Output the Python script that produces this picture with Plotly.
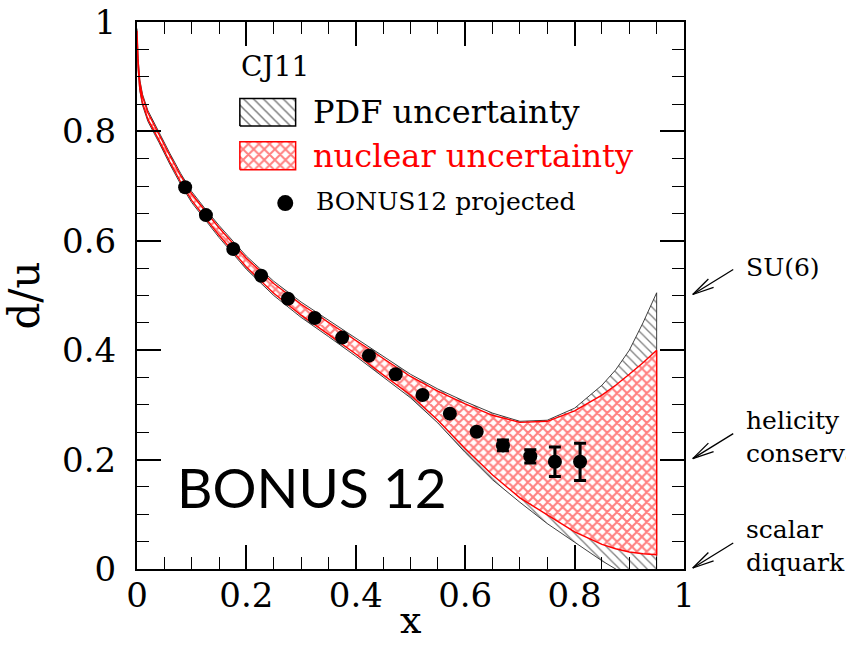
import math
import plotly.graph_objects as go

# ---------------- data ----------------
x_grid = [0.0, 0.001, 0.002, 0.005, 0.01, 0.02, 0.03, 0.04, 0.06, 0.08, 0.1, 0.125, 0.15,
          0.2, 0.25, 0.3, 0.35, 0.4, 0.45, 0.5, 0.55, 0.6, 0.65, 0.7, 0.75, 0.8,
          0.85, 0.875, 0.9, 0.925, 0.95]

pdf_upper = [0.988, 0.950, 0.933, 0.895, 0.868, 0.838, 0.818, 0.800, 0.760, 0.723, 0.690, 0.658, 0.628,
             0.572, 0.526, 0.488, 0.455, 0.423, 0.389, 0.356, 0.329, 0.306, 0.285, 0.270, 0.272,
             0.294, 0.336, 0.364, 0.400, 0.450, 0.505]
pdf_lower = [0.966, 0.932, 0.915, 0.875, 0.848, 0.818, 0.798, 0.780, 0.740, 0.703, 0.670, 0.638, 0.606,
             0.548, 0.500, 0.460, 0.425, 0.389, 0.351, 0.313, 0.267, 0.213, 0.163, 0.122, 0.083,
             0.049, 0.015, 0.001, -0.015, -0.030, -0.045]

nuc_upper = [0.984, 0.946, 0.929, 0.891, 0.864, 0.834, 0.814, 0.796, 0.756, 0.719, 0.686, 0.654, 0.624,
             0.568, 0.522, 0.484, 0.451, 0.419, 0.385, 0.352, 0.325, 0.302, 0.281, 0.268, 0.270,
             0.289, 0.318, 0.336, 0.356, 0.377, 0.400]
nuc_lower = [0.970, 0.936, 0.919, 0.879, 0.852, 0.822, 0.802, 0.784, 0.744, 0.707, 0.674, 0.642, 0.610,
             0.552, 0.504, 0.464, 0.429, 0.393, 0.355, 0.318, 0.272, 0.220, 0.172, 0.130, 0.099,
             0.068, 0.045, 0.037, 0.031, 0.028, 0.026]

bonus_x = [0.088, 0.126, 0.176, 0.227, 0.276, 0.325, 0.375, 0.424, 0.473, 0.522, 0.572, 0.621,
           0.669, 0.719, 0.764, 0.810]
bonus_y = [0.698, 0.647, 0.585, 0.536, 0.494, 0.459, 0.423, 0.390, 0.356, 0.318, 0.284, 0.251,
           0.226, 0.206, 0.196, 0.196]
bonus_err = [None, None, None, None, None, None, None, None, None, None, None, None,
             0.010, 0.012, 0.027, 0.034]

tick_vals = [0, 0.2, 0.4, 0.6, 0.8, 1.0]
tick_text = ["0", "0.2", "0.4", "0.6", "0.8", "1"]

legend_labels = ["CJ11", "PDF uncertainty", "nuclear uncertainty", "BONUS12 projected"]
limit_labels = ["SU(6)", "helicity<br>conservation", "scalar<br>diquark"]
limit_values = [0.5, 0.2, 0.0]

SERIF = "DejaVu Serif"
PDF_PATTERN = dict(shape="\\", fgcolor="black", bgcolor="white", size=6.5, solidity=0.2)
NUC_PATTERN = dict(shape="x", fgcolor="#ff0000", bgcolor="white", size=7, solidity=0.5)

fig = go.Figure()

# PDF uncertainty band (hatched)
fig.add_trace(go.Scatter(
    x=x_grid + x_grid[::-1], y=pdf_upper + pdf_lower[::-1],
    fill="toself", mode="lines",
    line=dict(color="#2a2a2a", width=0.9),
    fillcolor="white", fillpattern=PDF_PATTERN,
    showlegend=False, hoverinfo="skip"))

# nuclear uncertainty band (red cross-hatch)
fig.add_trace(go.Scatter(
    x=x_grid + x_grid[::-1], y=nuc_upper + nuc_lower[::-1],
    fill="toself", mode="lines",
    line=dict(color="#ff0000", width=1.4),
    fillcolor="white", fillpattern=NUC_PATTERN,
    showlegend=False, hoverinfo="skip"))

# BONUS12 projected points
fig.add_trace(go.Scatter(
    x=bonus_x, y=bonus_y, mode="markers",
    marker=dict(color="black", size=14),
    error_y=dict(type="data", array=bonus_err, visible=True, color="black", thickness=3, width=6),
    showlegend=False, hoverinfo="skip"))

# ---------------- manual legend (layout positions; paper == data units here) ----------------
LEG_X0, LEG_X1 = 0.188, 0.290
ROW_PDF = (0.810, 0.860)
ROW_NUC = (0.730, 0.781)
fig.add_trace(go.Scatter(
    x=[LEG_X0, LEG_X1, LEG_X1, LEG_X0, LEG_X0], y=[ROW_PDF[0], ROW_PDF[0], ROW_PDF[1], ROW_PDF[1], ROW_PDF[0]],
    fill="toself", mode="lines", line=dict(color="black", width=1.5), fillcolor="white",
    fillpattern=dict(PDF_PATTERN, size=7, solidity=0.22),
    showlegend=False, hoverinfo="skip"))
fig.add_trace(go.Scatter(
    x=[LEG_X0, LEG_X1, LEG_X1, LEG_X0, LEG_X0], y=[ROW_NUC[0], ROW_NUC[0], ROW_NUC[1], ROW_NUC[1], ROW_NUC[0]],
    fill="toself", mode="lines", line=dict(color="#ff0000", width=1.5), fillcolor="white",
    fillpattern=dict(NUC_PATTERN, size=7.5, solidity=0.45),
    showlegend=False, hoverinfo="skip"))
fig.add_trace(go.Scatter(
    x=[0.271], y=[0.669], mode="markers", marker=dict(color="black", size=16),
    showlegend=False, hoverinfo="skip"))

annotations = [
    dict(x=0.186, y=0.919, text=legend_labels[0], font=dict(family=SERIF, size=28, color="black")),
    dict(x=0.318, y=0.835, text=legend_labels[1], font=dict(family=SERIF, size=32, color="black")),
    dict(x=0.318, y=0.755, text=legend_labels[2], font=dict(family=SERIF, size=32, color="#ff0000")),
    dict(x=0.323, y=0.672, text=legend_labels[3], font=dict(family=SERIF, size=25, color="black")),
]
for a in annotations:
    a.update(xref="paper", yref="paper", xanchor="left", yanchor="middle", showarrow=False)

# BONUS 12 label
annotations.append(dict(x=0.32, y=0.150, xref="paper", yref="paper", text="BONUS 12",
                        showarrow=False, xanchor="center", yanchor="middle",
                        font=dict(family="Lato", size=55, color="black")))

# x-axis title placed just under the tick labels
annotations.append(dict(x=0.5, y=-0.093, xref="paper", yref="paper", text="x", showarrow=False,
                        xanchor="center", yanchor="middle",
                        font=dict(family=SERIF, size=38, color="black")))

# right-hand limit labels with arrows
shapes = []
PX = 547.0
tip_dx, tail_dx, tail_dy = 0.016, 0.090, 25 / PX
for lab, val in zip(limit_labels, limit_values):
    tip = (1.0 + tip_dx, val + 1 / PX)
    tail = (1.0 + tail_dx, val + 1 / PX + tail_dy)
    shapes.append(dict(type="line", xref="paper", yref="paper", x0=tip[0], y0=tip[1], x1=tail[0], y1=tail[1],
                       line=dict(color="black", width=1.3)))
    ang = math.atan2(tail[1] - tip[1], tail[0] - tip[0])
    for d in (math.radians(13), -math.radians(13)):
        L = 22 / PX
        shapes.append(dict(type="line", xref="paper", yref="paper", x0=tip[0], y0=tip[1],
                           x1=tip[0] + L * math.cos(ang + d), y1=tip[1] + L * math.sin(ang + d),
                           line=dict(color="black", width=1.3)))
    nlines = lab.count("<br>") + 1
    ty = tail[1] + (0.003 if nlines == 1 else -0.006)
    annotations.append(dict(x=1.110, y=ty, xref="paper", yref="paper", text=lab, showarrow=False,
                            xanchor="left", yanchor="middle", align="left",
                            font=dict(family=SERIF, size=25, color="black")))

axis_common = dict(
    range=[0, 1], tickvals=tick_vals, ticktext=tick_text,
    ticks="inside", ticklen=24, tickwidth=1.5, tickcolor="black",
    showline=True, linewidth=2, linecolor="black", mirror="ticks",
    showgrid=False, zeroline=False, automargin=False,
    tickfont=dict(family=SERIF, size=34, color="black"),
    minor=dict(dtick=0.05, ticks="inside", ticklen=12, tickwidth=1.2, tickcolor="black", showgrid=False),
)

fig.update_layout(
    width=846, height=659, autosize=False,
    margin=dict(l=137, r=162, t=22, b=90),
    paper_bgcolor="white", plot_bgcolor="white",
    xaxis=dict(**axis_common, ticklabelstandoff=-5),
    yaxis=dict(**axis_common, ticklabelstandoff=12,
               title=dict(text="d/u", font=dict(family=SERIF, size=42, color="black"), standoff=10)),
    annotations=annotations, shapes=shapes, showlegend=False,
)

fig.write_html("out.html")
